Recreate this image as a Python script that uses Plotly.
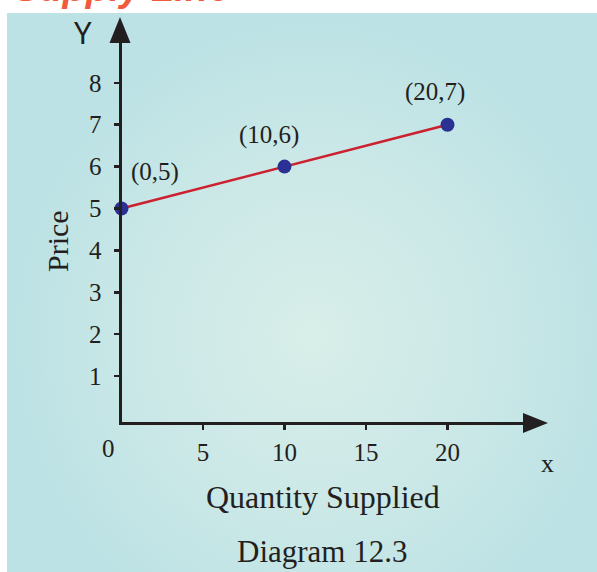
import plotly.graph_objects as go

# ---- data ----
quantity = [0, 10, 20]
price = [5, 6, 7]
point_labels = ["(0,5)", "(10,6)", "(20,7)"]
x_ticks = [5, 10, 15, 20]
y_ticks = [1, 2, 3, 4, 5, 6, 7, 8]

W, H = 597, 572
OFF = 0  # page body margin removed via post_script
def fx(sx): return sx - OFF
def fy(sy): return sy - OFF

INK = "#231f20"
SERIF = "Liberation Serif"

# screen-pixel anchors for the data axes
x0_s, x_scale, x_right_s = 121.5, 16.3, 523
y0_s, y_scale, y_bottom_s, y_top_s = 418, 41.9, 421.5, 43

def dom_x(a, b): return [fx(a) / W, fx(b) / W]
def dom_y(top, bottom): return [1 - fy(bottom) / H, 1 - fy(top) / H]

fig = go.Figure()

# background panel with radial gradient (drawn on a full-figure pixel axis)
fig.add_trace(go.Scatter(
    x=[fx(7), 620, 620, fx(7), fx(7)], y=[fy(13), fy(13), 660, 660, fy(13)],
    mode="lines", line=dict(width=0), fill="toself",
    fillgradient=dict(type="radial", colorscale=[[0, "#d8eee9"], [0.55, "#cbe8e7"], [1, "#bce2e5"]]),
    hoverinfo="skip", showlegend=False, xaxis="x", yaxis="y"))

# supply line
fig.add_trace(go.Scatter(
    x=quantity, y=price, mode="lines+markers",
    line=dict(color="#cc1f2f", width=2.5),
    marker=dict(color="#2b3192", size=14),
    cliponaxis=False, showlegend=False, xaxis="x2", yaxis="y2"))

fig.update_layout(
    width=W, height=H,
    margin=dict(l=0, r=0, t=0, b=0, pad=0, autoexpand=False),
    paper_bgcolor="white", plot_bgcolor="rgba(0,0,0,0)",
    xaxis=dict(domain=[0, 1], range=[0, W], visible=False, fixedrange=True),
    yaxis=dict(domain=[0, 1], range=[H, 0], visible=False, fixedrange=True),
    xaxis2=dict(domain=dom_x(x0_s, x_right_s), anchor="y2",
                range=[0, (x_right_s - x0_s) / x_scale],
                showline=True, linewidth=3, linecolor=INK, showgrid=False, zeroline=False,
                tickvals=x_ticks, ticks="outside", ticklen=5, tickwidth=2.5, tickcolor=INK,
                ticklabelstandoff=1, automargin=False,
                tickfont=dict(family=SERIF, size=25, color=INK)),
    yaxis2=dict(domain=dom_y(y_top_s, y_bottom_s), anchor="x2",
                range=[(y0_s - y_bottom_s) / y_scale, (y0_s - y_top_s) / y_scale],
                showline=True, linewidth=3, linecolor=INK, showgrid=False, zeroline=False,
                tickvals=y_ticks, ticks="outside", ticklen=5, tickwidth=2.5, tickcolor=INK,
                ticklabelstandoff=7, automargin=False,
                tickfont=dict(family=SERIF, size=25, color=INK)),
)

# arrow heads (pixel coordinates on the full-figure axis)
def tri(p):
    return "M " + " L ".join(f"{fx(a)},{fy(b)}" for a, b in p) + " Z"
fig.add_shape(type="path", xref="x", yref="y",
              path=tri([(120, 17), (130.5, 43), (109.5, 43)]),
              fillcolor=INK, line=dict(width=0))
fig.add_shape(type="path", xref="x", yref="y",
              path=tri([(548, 423), (523, 413), (523, 433)]),
              fillcolor=INK, line=dict(width=0))

def ann(text, sx, sy, size, family=SERIF, angle=0, **kw):
    fig.add_annotation(text=text, x=fx(sx), y=fy(sy), xref="x", yref="y",
                       showarrow=False, textangle=angle,
                       font=dict(family=family, size=size, color=INK), **kw)

ann("Y", 83, 32, 31, family="Noto Sans")
ann("Price", 57, 241, 30, angle=-90)
ann("Quantity Supplied", 323, 497, 32)
ann("Diagram 12.3", 322, 551, 31)
ann("x", 547, 463, 26)
ann("0", 108, 448, 25)

fig.add_annotation(text="Supply Line", x=fx(12), y=0, xref="x", yref="y",
                   xanchor="left", yanchor="middle", yshift=12, showarrow=False,
                   font=dict(family="Liberation Sans", size=38, color="#f15a3b",
                             weight="bold", style="italic"))

# point labels
shifts = [(33, 37), (-16, 32), (-13, 33)]
for q, p, lab, (dx, dy) in zip(quantity, price, point_labels, shifts):
    fig.add_annotation(text=lab, x=q, y=p, xref="x2", yref="y2", showarrow=False,
                       xshift=dx, yshift=dy,
                       font=dict(family=SERIF, size=25, color=INK))

fig.write_html("out.html", config={"displayModeBar": False, "staticPlot": True},
               post_script="document.body.style.margin='0';")
